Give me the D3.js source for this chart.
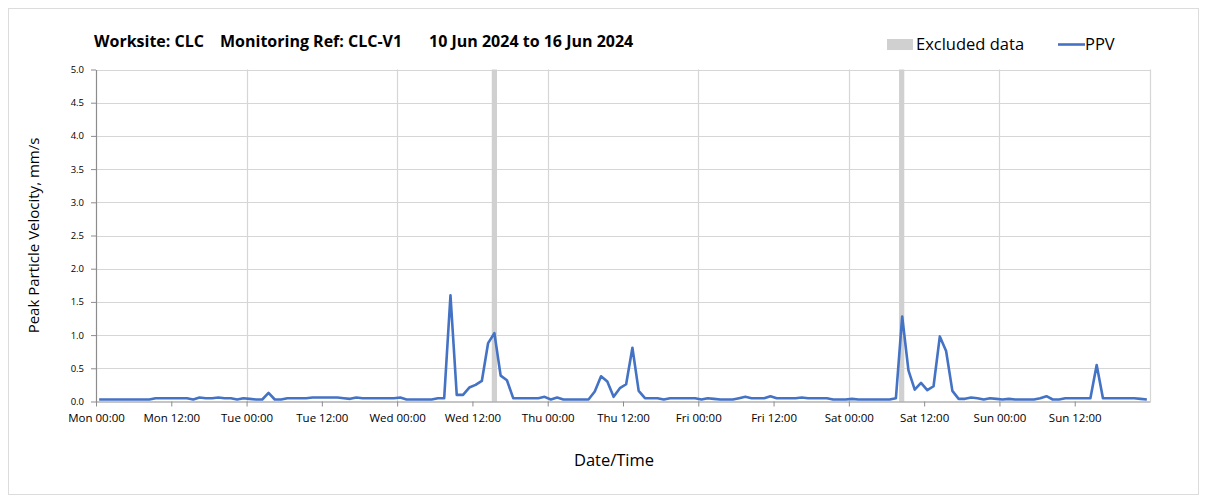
<!DOCTYPE html>
<html>
<head>
<meta charset="utf-8">
<script src="https://cdn.jsdelivr.net/npm/d3@7"></script>
<style>
    body { margin: 0; background: #fff; }
    text { font-family: "Open Sans", Lato, sans-serif; fill: #000; }
</style>
</head>
<body>
<svg id="canvas"></svg>
<script>
// ########## Data ##########
// hourly PPV (mm/s), one array per day, each reading sits at hh:30
var ppvMon = [0.03,0.03,0.03,0.03,0.03,0.03,0.03,0.03,0.03,0.05,0.05,0.05,0.05,0.05,0.05,0.03,0.06,0.05,0.05,0.06,0.05,0.05,0.03,0.05];
var ppvTue = [0.04,0.03,0.03,0.13,0.03,0.03,0.05,0.05,0.05,0.05,0.06,0.06,0.06,0.06,0.06,0.05,0.04,0.06,0.05,0.05,0.05,0.05,0.05,0.05];
var ppvWed = [0.06,0.03,0.03,0.03,0.03,0.03,0.05,0.05,1.60,0.10,0.10,0.21,0.25,0.31,0.88,1.03,0.39,0.32,0.05,0.05,0.05,0.05,0.05,0.07];
var ppvThu = [0.03,0.06,0.03,0.03,0.03,0.03,0.03,0.15,0.38,0.30,0.07,0.20,0.26,0.81,0.16,0.05,0.05,0.05,0.03,0.05,0.05,0.05,0.05,0.05];
var ppvFri = [0.03,0.05,0.04,0.03,0.03,0.03,0.05,0.07,0.05,0.05,0.05,0.08,0.05,0.05,0.05,0.05,0.06,0.05,0.05,0.05,0.05,0.03,0.03,0.03];
var ppvSat = [0.04,0.03,0.03,0.03,0.03,0.03,0.03,0.05,1.28,0.47,0.18,0.28,0.17,0.23,0.98,0.76,0.16,0.04,0.04,0.06,0.05,0.03,0.05,0.04];
var ppvSun = [0.03,0.04,0.03,0.03,0.03,0.03,0.05,0.08,0.03,0.03,0.05,0.05,0.05,0.05,0.05,0.55,0.05,0.05,0.05,0.05,0.05,0.05,0.04,0.03];

var startDate = "2024-06-10T00:00:00Z";
var endDate = "2024-06-17T00:00:00Z";

var excludedStart = ["2024-06-12T15:05:00Z", "2024-06-15T08:00:00Z"];
var excludedEnd = ["2024-06-12T15:55:00Z", "2024-06-15T08:50:00Z"];

var yTicks = [0, 0.5, 1, 1.5, 2, 2.5, 3, 3.5, 4, 4.5, 5];

(function () {
    // ########## SVG ##########
    var w = 1208, h = 496;
    var svg = d3.select("#canvas").attr("width", w).attr("height", h);

    svg.append("rect")
        .attr("x", 8.5).attr("y", 8.5)
        .attr("width", 1190).attr("height", 486)
        .attr("fill", "none").attr("stroke", "#dcdcdc");

    var pLeft = 96, pRight = 1150, pTop = 69.5, pBottom = 401.5;

    var x = d3.scaleUtc()
        .domain([new Date(startDate), new Date(endDate)])
        .range([pLeft, pRight]);

    var y = d3.scaleLinear().domain([0, 5]).range([pBottom, pTop]);

    var t0 = new Date(startDate);
    var allPPV = [].concat(ppvMon, ppvTue, ppvWed, ppvThu, ppvFri, ppvSat, ppvSun);
    var data = allPPV.map(function (v, i) {
        return { t: d3.utcMinute.offset(t0, i * 60 + 30), v: v };
    });

    // ########## Grid ##########
    svg.append("g").selectAll("line")
        .data(yTicks.slice(1)).enter()
        .append("line")
        .attr("x1", pLeft).attr("x2", pRight)
        .attr("y1", function (d) { return Math.round(y(d)) + 0.5; })
        .attr("y2", function (d) { return Math.round(y(d)) + 0.5; })
        .attr("stroke", "#d6d6d6").attr("stroke-width", 1.2);

    var days = d3.utcDay.range(d3.utcDay.offset(t0, 1), d3.utcDay.offset(new Date(endDate), 1));
    svg.append("g").selectAll("line")
        .data(days).enter()
        .append("line")
        .attr("y1", pTop).attr("y2", pBottom)
        .attr("x1", function (d) { return Math.round(x(d)) + 0.5; })
        .attr("x2", function (d) { return Math.round(x(d)) + 0.5; })
        .attr("stroke", "#d6d6d6").attr("stroke-width", 1.2);

    // ########## Excluded bands ##########
    svg.append("g").selectAll("rect")
        .data(excludedStart).enter()
        .append("rect")
        .attr("x", function (d) { return x(new Date(d)); })
        .attr("width", function (d, i) { return x(new Date(excludedEnd[i])) - x(new Date(d)); })
        .attr("y", pTop).attr("height", pBottom - pTop)
        .attr("fill", "#d0d0d0");

    // ########## Axes ##########
    var xTicks = d3.utcHour.every(12).range(t0, new Date(endDate));
    var xAxis = d3.axisBottom(x)
        .tickValues(xTicks)
        .tickFormat(d3.utcFormat("%a %H:%M"))
        .tickSize(5).tickSizeOuter(0);

    var gx = svg.append("g")
        .attr("transform", "translate(0," + pBottom + ")")
        .call(xAxis);
    gx.select(".domain").attr("stroke", "#8c8c8c").attr("stroke-width", 1.2);
    gx.selectAll(".tick line").attr("stroke", "#8c8c8c");
    gx.selectAll(".tick text").attr("dy", "1.1em").style("font-size", "11.5px");

    var yAxis = d3.axisLeft(y)
        .tickValues(yTicks)
        .tickFormat(d3.format(".1f"))
        .tickSize(5).tickSizeOuter(0);

    var gy = svg.append("g")
        .attr("transform", "translate(" + pLeft + ",0)")
        .call(yAxis);
    gy.select(".domain").attr("stroke", "#8c8c8c").attr("stroke-width", 1.2);
    gy.selectAll(".tick line").attr("stroke", "#8c8c8c");
    gy.selectAll(".tick text").attr("x", -12).style("font-size", "9.5px");

    // ########## PPV line ##########
    var line = d3.line()
        .x(function (d) { return x(d.t); })
        .y(function (d) { return y(d.v); });

    svg.append("path")
        .datum(data)
        .attr("d", line)
        .attr("fill", "none")
        .attr("stroke", "#4472c4")
        .attr("stroke-width", 2.6)
        .attr("stroke-linejoin", "round");

    // ########## Titles ##########
    var title = svg.append("g").style("font-size", "16px").style("font-weight", "bold");
    title.append("text").attr("x", 94).attr("y", 47).text("Worksite: CLC");
    title.append("text").attr("x", 220).attr("y", 47).text("Monitoring Ref: CLC-V1");
    title.append("text").attr("x", 429).attr("y", 47).text("10 Jun 2024 to 16 Jun 2024");

    svg.append("text")
        .attr("transform", "translate(39," + (pTop + pBottom) / 2 + ") rotate(-90)")
        .attr("text-anchor", "middle")
        .style("font-size", "15px")
        .text("Peak Particle Velocity, mm/s");

    svg.append("text")
        .attr("x", 614).attr("y", 466)
        .attr("text-anchor", "middle")
        .style("font-size", "16.5px")
        .text("Date/Time");

    // ########## Legend ##########
    var legend = svg.append("g").style("font-size", "16.5px");
    legend.append("rect").attr("x", 887).attr("y", 39).attr("width", 26).attr("height", 11).attr("fill", "#d0d0d0");
    legend.append("text").attr("x", 916).attr("y", 50).text("Excluded data");
    legend.append("line").attr("x1", 1058).attr("x2", 1085).attr("y1", 44.5).attr("y2", 44.5)
        .attr("stroke", "#4472c4").attr("stroke-width", 2.6);
    legend.append("text").attr("x", 1085).attr("y", 50).text("PPV");
})();
</script>
</body>
</html>
